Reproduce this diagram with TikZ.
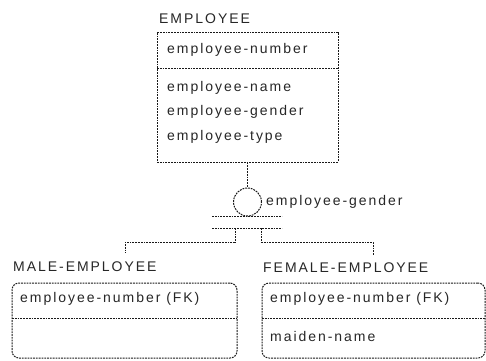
\documentclass[tikz,border=0pt]{standalone}
\usepackage{fontspec}
\setmainfont{Liberation Sans}[LetterSpace=14]
\begin{document}
\begin{tikzpicture}[x=1pt,y=-1pt,
  lin/.style={draw=black!90, line width=1pt, dash pattern=on 1.8pt off 1pt},
  txt/.style={anchor=west, inner sep=0pt, font=\fontsize{14}{16}\selectfont, text=black!85},
  entbox/.style={lin, rectangle, inner sep=0pt},
  depbox/.style={lin, rectangle, rounded corners=7pt, inner sep=0pt},
  disc/.style={lin, circle, inner sep=0pt, minimum size=28pt}]
\useasboundingbox (0,0) rectangle (486,360);
% EMPLOYEE
\node[txt] (empT) at (159,19) {EMPLOYEE};
\node[entbox, minimum width=181pt, minimum height=130pt] (emp) at (247.5,97) {};
\coordinate (empDL) at (157,68);
\coordinate (empDR) at (338,68);
\draw[lin] (empDL) -- (empDR);
\node[txt] (empK) at (167,50) {employee-number};
\node[txt] (empA1) at (167,88) {employee-name};
\node[txt] (empA2) at (167,112) {employee-gender};
\node[txt] (empA3) at (167,137) {employee-type};
% category
\node[disc] (cat) at (247.5,202) {};
\node[txt] (catL) at (266,202) {employee-gender};
\coordinate (b1l) at (212,216);
\coordinate (b1r) at (282,216);
\coordinate (b2l) at (212,228);
\coordinate (b2r) at (282,228);
\draw[lin] (emp.south) -- (cat.north);
\draw[lin] (b1l) -- (b1r);
\draw[lin] (b2l) -- (b2r);
% branches
\coordinate (lb) at (235,228);
\coordinate (rb) at (261,228);
\coordinate (lend) at (125,253);
\coordinate (rend) at (373,255);
\draw[lin] (lb) -- (235,242) -| (lend);
\draw[lin] (rb) -- (261,242) -| (rend);
% MALE-EMPLOYEE
\node[txt] (maleT) at (13,267) {MALE-EMPLOYEE};
\node[depbox, minimum width=225pt, minimum height=75pt] (male) at (124.5,320.5) {};
\coordinate (maleDL) at (12,318);
\coordinate (maleDR) at (237,318);
\draw[lin] (maleDL) -- (maleDR);
\node[txt] (maleK) at (20,299) {employee-number (FK)};
% FEMALE-EMPLOYEE
\node[txt] (femT) at (263,268) {FEMALE-EMPLOYEE};
\node[depbox, minimum width=223pt, minimum height=75pt] (fem) at (373.5,320.5) {};
\coordinate (femDL) at (262,318);
\coordinate (femDR) at (485,318);
\draw[lin] (femDL) -- (femDR);
\node[txt] (femK) at (270,299) {employee-number (FK)};
\node[txt] (femA1) at (270,336) {maiden-name};
\end{tikzpicture}
\end{document}
